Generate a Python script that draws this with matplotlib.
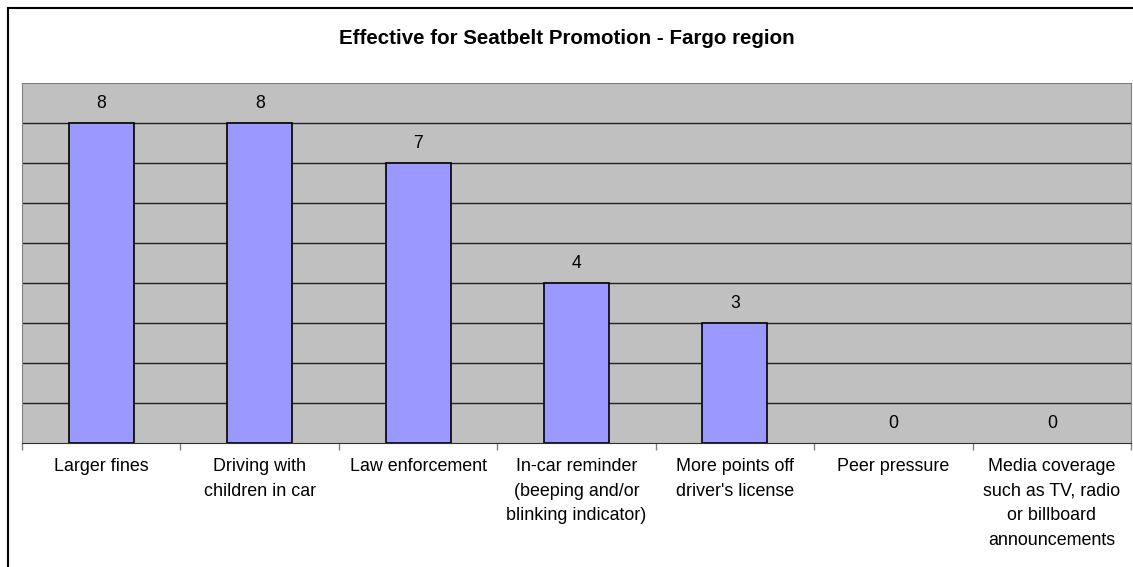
import matplotlib.pyplot as plt
from matplotlib.patches import Rectangle
import numpy as np

# Survey responses
categories = [
    "Larger fines",
    "Driving with\nchildren in car",
    "Law enforcement",
    "In-car reminder\n(beeping and/or\nblinking indicator)",
    "More points off\ndriver's license",
    "Peer pressure",
    "Media coverage\nsuch as TV, radio\nor billboard\nannouncements",
]
counts = [8, 8, 7, 4, 3, 0, 0]

plt.rcParams["font.family"] = ["Liberation Sans", "DejaVu Sans"]

W, H = 1133, 567
fig = plt.figure(figsize=(W / 100, H / 100), dpi=100)

# outer chart frame (runs off the right and bottom edges)
fig.patches.append(
    Rectangle((7.5 / W, -0.1), 1.2, 1.1 - 7.5 / H, transform=fig.transFigure,
              fill=False, edgecolor="black", linewidth=1.5)
)

ax = fig.add_axes([22 / W, 1 - 443 / H, (1131 - 22) / W, (443 - 83) / H])
ax.set_facecolor("#C0C0C0")

x = np.arange(len(categories))
edge_w = [1.2 if v > 0 else 0 for v in counts]
ax.bar(x, counts, width=0.41, color="#9999FF", edgecolor="black", linewidth=edge_w, zorder=3)

for xi, v in zip(x, counts):
    ax.text(xi, v + 0.5, str(v), ha="center", va="center", fontsize=12.7, zorder=4)

ax.set_xlim(-0.5, len(categories) - 0.5)
ax.set_ylim(0, 9)
ax.set_yticks(range(1, 9))
ax.yaxis.grid(True, color="#222222", linewidth=1.0)
ax.set_axisbelow(True)
ax.tick_params(axis="y", left=False, labelleft=False)

ax.set_xticks(x)
ax.set_xticklabels(categories, fontsize=12.9, linespacing=1.57, va="top")
ax.set_xticks(np.arange(-0.5, len(categories)), minor=True)
ax.tick_params(axis="x", which="major", length=0, pad=11)
ax.tick_params(axis="x", which="minor", length=5, color="#808080", width=1)

for side in ["left", "top", "right"]:
    ax.spines[side].set_color("#808080")
ax.spines["bottom"].set_color("#303030")

fig.text(0.5, 1 - 38 / H, "Effective for Seatbelt Promotion - Fargo region",
         ha="center", va="center", fontsize=14.8, fontweight="bold")

plt.savefig("out.png", dpi=100)
